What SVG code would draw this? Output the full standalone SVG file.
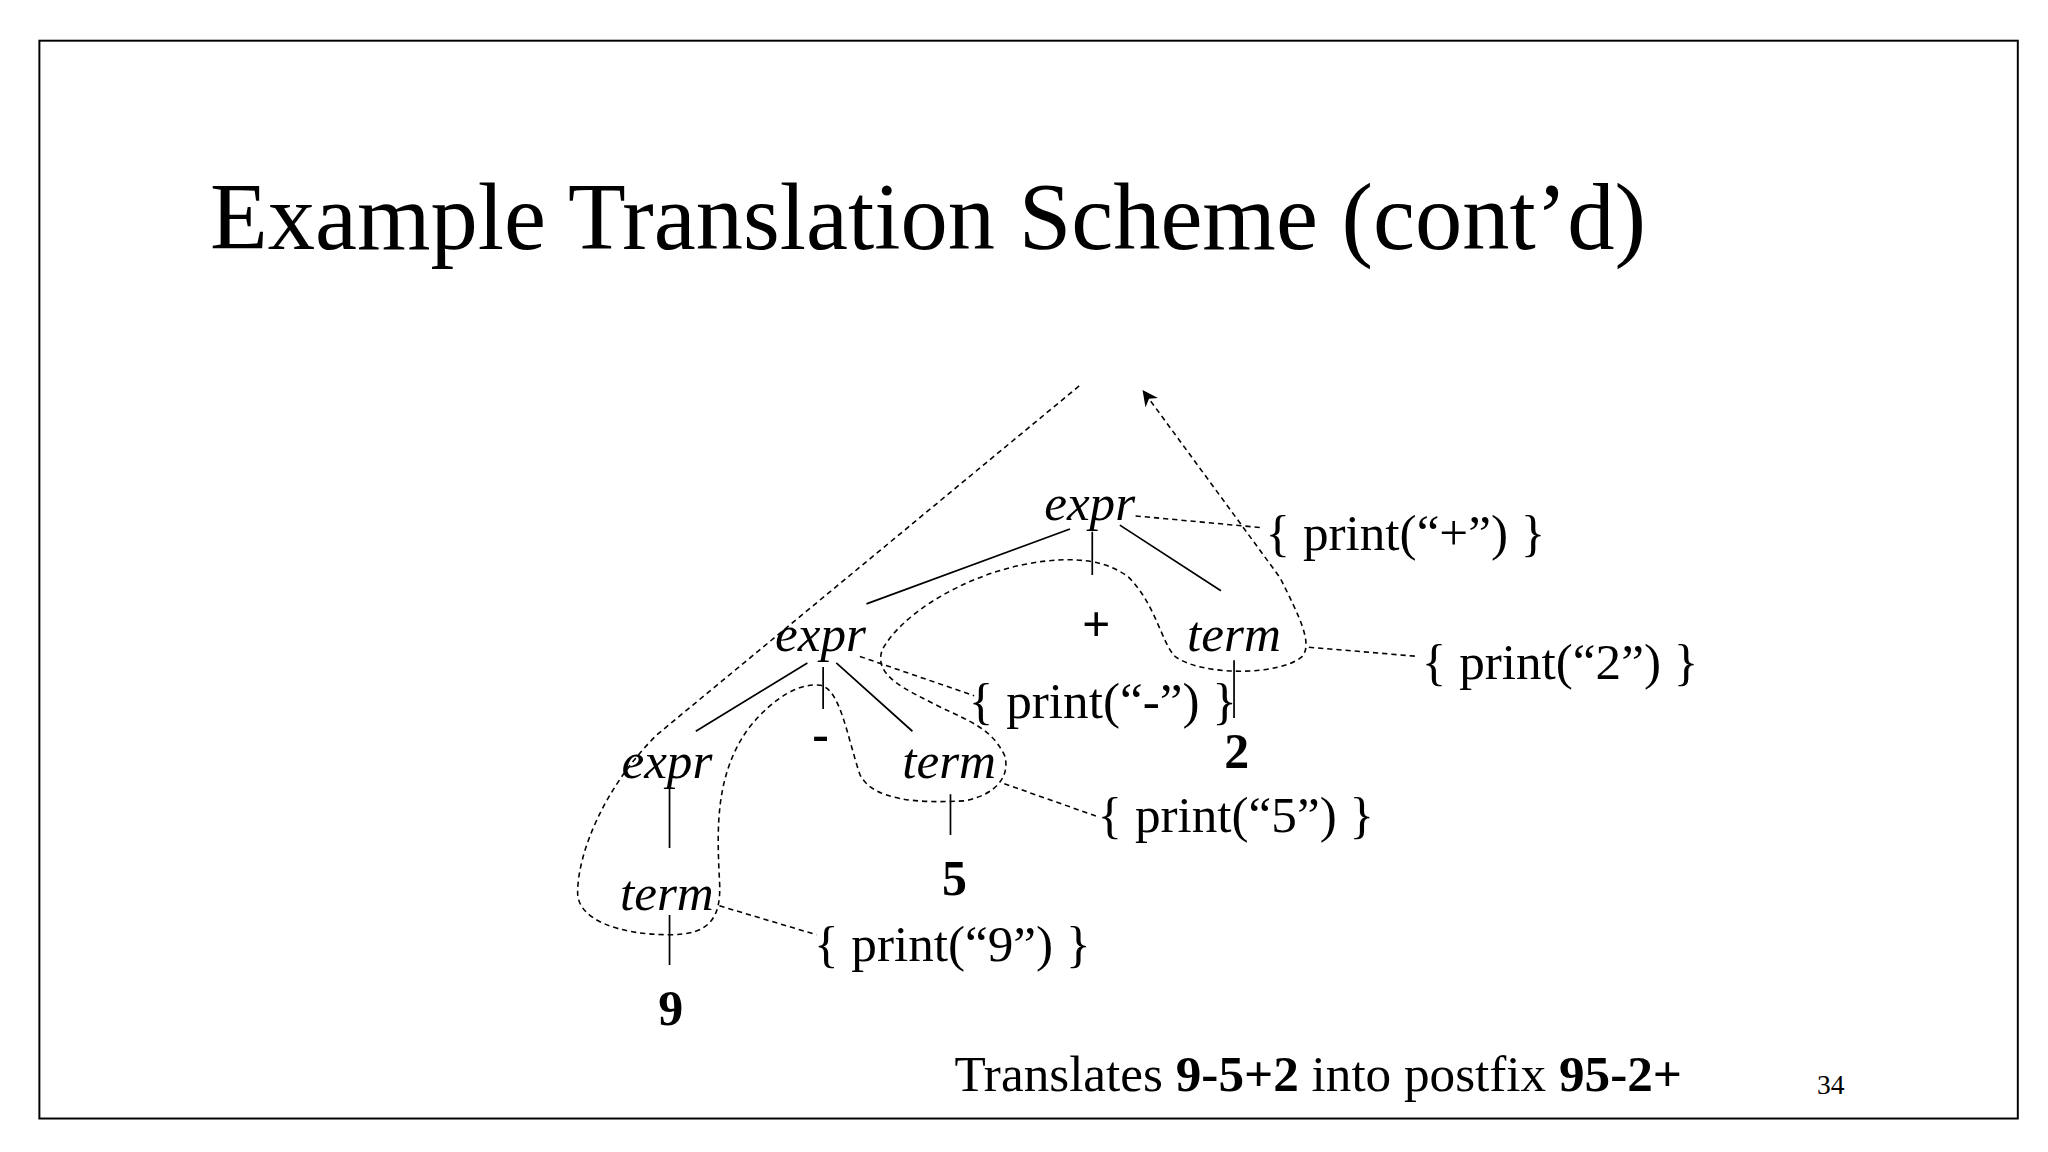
<svg xmlns="http://www.w3.org/2000/svg" width="2048" height="1152" viewBox="0 0 2048 1152">
<defs>
<marker id="ah" viewBox="0 0 10 10" refX="9" refY="5" markerWidth="12" markerHeight="12" markerUnits="userSpaceOnUse" orient="auto"><path d="M0,0 L10,5 L0,10 L3,5 z" fill="#000"/></marker>
<style>
text{font-family:"Liberation Serif","Times New Roman",serif;fill:#000}
.n{font-size:39px;font-style:italic;text-anchor:middle}
.b{font-size:38px;font-weight:bold;text-anchor:middle}
.a{font-size:39px}
.s{stroke:#000;stroke-width:1.3;fill:none}
.d{stroke:#000;stroke-width:1.2;fill:none;stroke-dasharray:4,3}
</style>
</defs>
<rect width="2048" height="1152" fill="#fff"/>
<g transform="scale(1.31282)">
<rect x="30" y="31" width="1507" height="821" fill="none" stroke="#000" stroke-width="1.5"/>
<text x="160" y="190" style="font-size:72px">Example Translation Scheme (cont’d)</text>
<g id="connectors">
<path class="s" d="M815,403 L660,460 M832,405 L832,438 M853,400 L930,450 M615,505 L530,557 M627,508 L627,540 M637,505 L695,557 M510,600 L510,646 M724,605 L724,636 M940,503 L940,547 M510,697 L510,735"/>
<path class="d" d="M822,294 L500,560 C460,600 440,650 440,680 C440,700 470,712 510,712 C540,712 550,700 548,670 C546,630 545,590 570,555 C590,530 610,520 625,522 C640,525 645,560 655,590 C665,610 700,612 735,610 C760,605 770,590 765,575 C755,555 740,550 715,538 C690,525 665,515 672,495 C685,470 730,440 780,430 C820,422 845,428 860,440 C880,460 885,490 895,500 C915,515 975,515 992,500 C1000,490 990,470 975,440 L871,298" marker-end="url(#ah)"/>
<path class="d" d="M865,393 L962,402 M997,493 L1080,500 M655,500 L742,530 M765,597 L836,622 M548,690 L622,712"/>
</g>
<g id="n-expr-top"><text class="n" x="830" y="396">expr</text></g>
<g id="a-plus"><text class="a" x="964" y="419">{ print(“+”) }</text></g>
<g id="n-expr-mid"><text class="n" x="625" y="496">expr</text></g>
<g id="n-plus"><text class="b" x="835" y="488">+</text></g>
<g id="n-term-right"><text class="n" x="940" y="496">term</text></g>
<g id="a-2"><text class="a" x="1083" y="517">{ print(“2”) }</text></g>
<g id="a-minus"><text class="a" x="738" y="547">{ print(“-”) }</text></g>
<g id="n-2"><text class="b" x="942" y="585">2</text></g>
<g id="n-minus"><text class="b" x="625" y="572">-</text></g>
<g id="n-expr-left"><text class="n" x="508" y="593">expr</text></g>
<g id="n-term-mid"><text class="n" x="723" y="593">term</text></g>
<g id="a-5"><text class="a" x="836" y="634">{ print(“5”) }</text></g>
<g id="n-5"><text class="b" x="727" y="682">5</text></g>
<g id="n-term-bottom"><text class="n" x="508" y="693">term</text></g>
<g id="a-9"><text class="a" x="620" y="732">{ print(“9”) }</text></g>
<g id="n-9"><text class="b" x="511" y="781">9</text></g>
<text x="727" y="831" class="a">Translates <tspan font-weight="bold">9-5+2</tspan> into postfix <tspan font-weight="bold">95-2+</tspan></text>
<text x="1384" y="833" style="font-size:21px">34</text>
</g>
</svg>
